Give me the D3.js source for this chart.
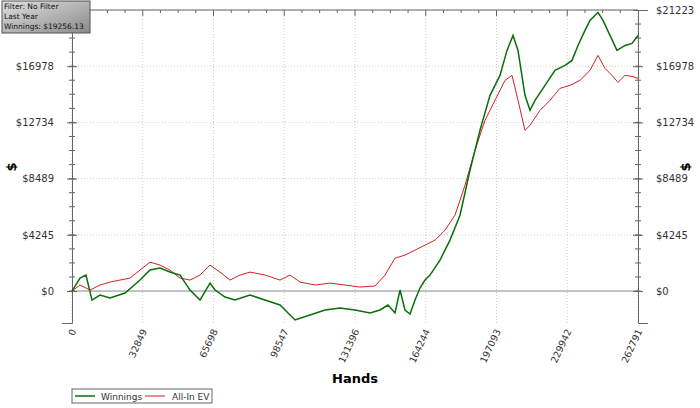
<!DOCTYPE html><html><head><script src="https://cdn.jsdelivr.net/npm/d3@7"></script>
<style>body{margin:0;background:#fff}text{font-family:"DejaVu Sans",sans-serif}</style></head><body><svg id="c" width="700" height="408"></svg>
<script>
const yTicks=[0,4245,8489,12734,16978,21223];
const xTicks=[0,32849,65698,98547,131396,164244,197093,229942,262791];
const winHands=[0,3714,6500,9286,13000,17643,24608,31573,36215,40858,45500,50143,54786,59430,64073,66395,71038,75680,82645,89610,96574,103539,110503,117468,124432,131397,138361,143004,146718,149968,152290,154611,156933,159254,161576,163897,166219,170862,175504,180147,184790,189432,194075,198718,201968,204754,207075,210325,212647,214968,219611,224254,228896,232147,234932,238182,240504,244218,246540,249790,253040,256755,260005,262791];
const winVals=[0,980,1206,-680,-300,-530,-150,830,1585,1734,1433,1206,75,-680,600,75,-450,-680,-300,-680,-1055,-2186,-1810,-1432,-1282,-1432,-1658,-1432,-1055,-1658,75,-1432,-1734,-680,226,829,1206,2337,3845,5730,9123,12139,14778,16286,18171,19302,18171,14778,13647,14401,15532,16663,17040,17417,18548,19679,20433,21036,20433,19302,18171,18548,18699,19302];
const evHands=[0,3714,8357,13000,17643,22286,26929,31573,36215,40858,45500,50143,54786,59430,64073,68716,73358,78001,82645,89610,96574,101217,105860,112825,119789,126754,133718,140682,145325,149968,154611,159254,163897,168540,173182,177825,182468,187111,191754,196396,201039,204290,207075,210325,212647,217290,221932,226575,231218,235861,240504,244218,247468,250718,253504,256755,260005,262791];
const evVals=[0,452,75,452,679,829,980,1583,2186,1960,1583,980,829,1206,1960,1432,829,1206,1432,1206,829,1206,679,452,603,452,302,380,1206,2488,2714,3091,3468,3845,4599,5730,7992,10631,12893,14401,15909,16286,14401,12139,12516,13647,14401,15306,15532,15909,16663,17794,16814,16286,15758,16286,16211,16060];
const infoLines=["Filter: No Filter","Last Year","Winnings: $19256.13"];
const svg=d3.select("#c");
const L=72,R=638,T=10,B=323;
const x=d3.scaleLinear().domain([0,262791]).range([L,R]);
const y=d3.scaleLinear().domain([-2413,21223]).range([B,T]);
const g=svg.append("g");
xTicks.forEach(t=>g.append("line").attr("x1",x(t)).attr("x2",x(t)).attr("y1",T).attr("y2",B).attr("stroke","#ccc").attr("stroke-dasharray","1,2"));
yTicks.forEach(t=>g.append("line").attr("x1",L).attr("x2",R).attr("y1",y(t)).attr("y2",y(t)).attr("stroke",t===0?"#888":"#ccc").attr("stroke-dasharray",t===0?null:"1,2"));
g.append("line").attr("x1",L).attr("x2",R).attr("y1",T).attr("y2",T).attr("stroke","#666");
const minorY=d3.range(0,21223,4245/4);
const yl=d3.axisLeft(y).tickValues(yTicks).tickFormat(d=>"$"+d).tickSize(10).tickPadding(8);
const yr=d3.axisRight(y).tickValues(yTicks).tickFormat(d=>"$"+d).tickSize(10).tickPadding(8);
function style(s){s.select(".domain").attr("stroke","#666");s.selectAll("line").attr("stroke","#666");s.selectAll("text").attr("font-size",10).attr("fill","#333");}
const gl=svg.append("g").attr("transform",`translate(${L},0)`).call(yl).call(style);
gl.selectAll(".tick line").attr("x1",5).attr("x2",-5);
const gr=svg.append("g").attr("transform",`translate(${R},0)`).call(yr).call(style);
gr.selectAll(".tick line").attr("x1",-5).attr("x2",5);
[L,R].forEach(px=>minorY.forEach(v=>svg.append("line").attr("x1",px-3).attr("x2",px+3).attr("y1",y(v)).attr("y2",y(v)).attr("stroke","#666")));
d3.range(0,262791,32849/4).forEach(v=>svg.append("line").attr("x1",x(v)).attr("x2",x(v)).attr("y1",T).attr("y2",T+(v%32849<1?6:3)).attr("stroke","#666"));
const gx=svg.append("g").attr("transform",`translate(0,${B})`).call(d3.axisBottom(x).tickValues(xTicks).tickSize(0).tickFormat(d=>d));
gx.select(".domain").remove();
gx.selectAll("text").attr("font-size",9.5).attr("fill","#333").attr("text-anchor","end").attr("dy",0).attr("transform","translate(4,8) rotate(-65)").attr("y",0).attr("x",0);
const line=d3.line().x(d=>x(d[0])).y(d=>y(d[1]));
svg.append("path").attr("d",line(evHands.map((h,i)=>[h,evVals[i]]))).attr("fill","none").attr("stroke","#d42020").attr("stroke-width",1);
svg.append("path").attr("d",line(winHands.map((h,i)=>[h,winVals[i]]))).attr("fill","none").attr("stroke","#0a6e0a").attr("stroke-width",1.5);
svg.append("text").attr("x",355).attr("y",383).attr("text-anchor","middle").attr("font-size",13).attr("font-weight","bold").text("Hands");
svg.append("text").attr("transform","translate(16,167) rotate(-90)").attr("text-anchor","middle").attr("font-size",13).attr("font-weight","bold").text("$");
svg.append("text").attr("transform","translate(690,167) rotate(-90)").attr("text-anchor","middle").attr("font-size",13).attr("font-weight","bold").text("$");
svg.append("rect").attr("x",72).attr("y",389).attr("width",140).attr("height",14).attr("fill","#fff").attr("stroke","#666");
svg.append("line").attr("x1",75).attr("x2",95).attr("y1",396).attr("y2",396).attr("stroke","#0a6e0a").attr("stroke-width",1.5);
svg.append("text").attr("x",101).attr("y",400).attr("font-size",9).attr("fill","#333").text("Winnings");
svg.append("line").attr("x1",145).attr("x2",165).attr("y1",396).attr("y2",396).attr("stroke","#d42020");
svg.append("text").attr("x",172).attr("y",400).attr("font-size",9).attr("fill","#333").text("All-In EV");
const gr2=svg.append("defs").append("linearGradient").attr("id","gb").attr("x1",0).attr("x2",1).attr("y1",0).attr("y2",1);
gr2.append("stop").attr("offset","0%").attr("stop-color","#e0e0e0");gr2.append("stop").attr("offset","100%").attr("stop-color","#8a8a8a");
svg.append("rect").attr("x",2).attr("y",1).attr("width",88).attr("height",32).attr("fill","url(#gb)").attr("stroke","#555");
const info=svg.append("text").attr("x",4).attr("y",9).attr("font-size",7.5).attr("fill","#111");
infoLines.forEach((t,i)=>info.append("tspan").attr("x",4).attr("dy",i?10:0).text(t));
</script></body></html>
